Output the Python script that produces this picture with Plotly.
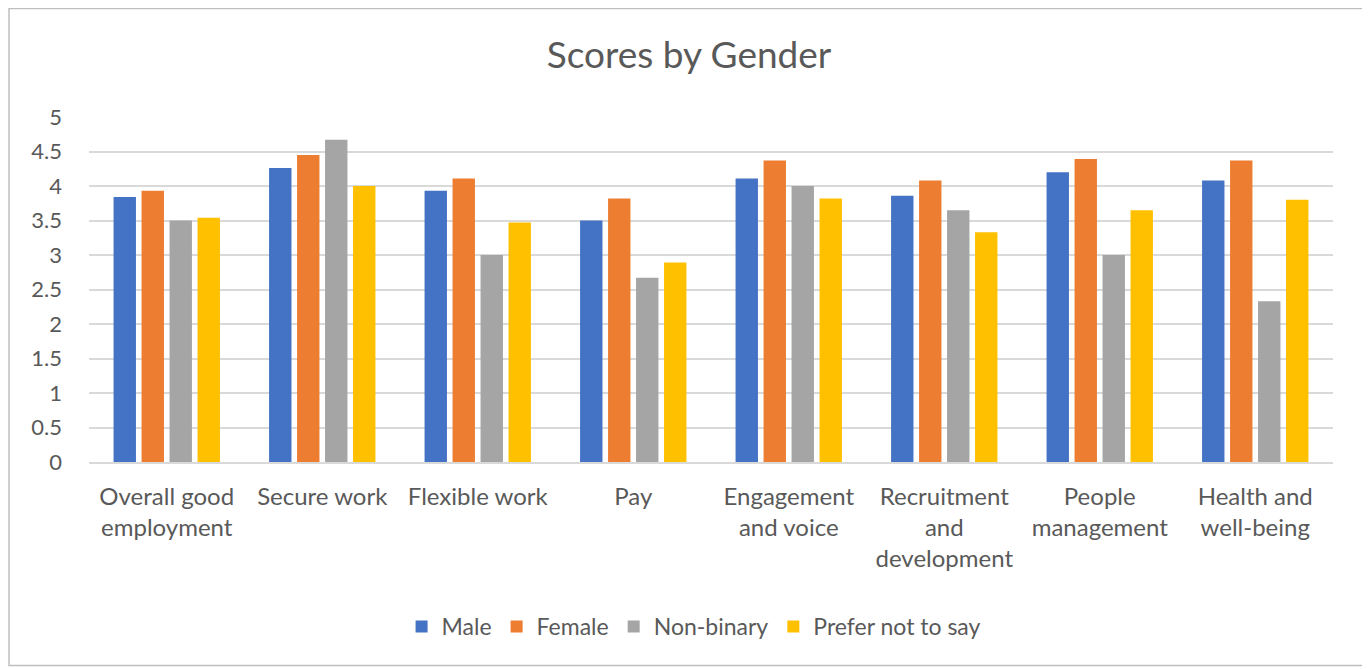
import plotly.graph_objects as go

categories = ["Overall good<br>employment", "Secure work", "Flexible work", "Pay",
              "Engagement<br>and voice", "Recruitment<br>and<br>development",
              "People<br>management", "Health and<br>well-being"]
male = [3.84, 4.26, 3.93, 3.50, 4.11, 3.86, 4.20, 4.08]
female = [3.93, 4.45, 4.11, 3.82, 4.37, 4.08, 4.39, 4.37]
non_binary = [3.50, 4.67, 3.00, 2.67, 4.00, 3.65, 3.00, 2.33]
prefer_not = [3.54, 4.00, 3.47, 2.89, 3.82, 3.33, 3.65, 3.80]
series_names = ["Male", "Female", "Non-binary", "Prefer not to say"]
colors = ["#4472C4", "#ED7D31", "#A5A5A5", "#FFC000"]
y_ticks = [0, 0.5, 1, 1.5, 2, 2.5, 3, 3.5, 4, 4.5, 5]

font_family = "Lato, 'Open Sans', sans-serif"
text_color = "#595959"

fig = go.Figure()
for name, vals, col in zip(series_names, [male, female, non_binary, prefer_not], colors):
    fig.add_trace(go.Bar(x=categories, y=vals, name=name,
                         marker=dict(color=col, line=dict(width=0))))

fig.update_layout(
    width=1362, height=661,
    barmode="group", bargap=0.28, bargroupgap=0.2,
    paper_bgcolor="white", plot_bgcolor="white",
    margin=dict(l=81, r=37, t=109, b=207),
    title=dict(text="Scores by Gender", x=0.5, xanchor="center", y=0.929, yanchor="middle",
               font=dict(family=font_family, size=37, color=text_color)),
    font=dict(family=font_family, color=text_color),
    legend=dict(orientation="h", x=0.486, xanchor="center", y=-0.477, yanchor="middle",
                font=dict(size=23, color=text_color), itemwidth=30,
                traceorder="normal"),
    showlegend=True,
)
fig.update_yaxes(range=[0, 5], tickvals=y_ticks, ticktext=[f"{v:g}" for v in y_ticks],
                 showgrid=True, gridcolor="#d9d9d9", gridwidth=2,
                 zeroline=False, showline=False, ticks="",
                 tickfont=dict(size=22, color=text_color), ticklabelstandoff=26)
fig.update_xaxes(showline=True, linecolor="#d9d9d9", linewidth=2, ticks="",
                 tickfont=dict(size=24, color=text_color), tickangle=0,
                 ticklabelstandoff=12)

fig.add_shape(type="rect", xref="paper", yref="paper",
              x0=-0.0643, x1=1.0265, y0=-0.590, y1=1.3144,
              line=dict(color="#bfbfbf", width=1.5), fillcolor="rgba(0,0,0,0)", layer="below")

fig.write_html("out.html")
